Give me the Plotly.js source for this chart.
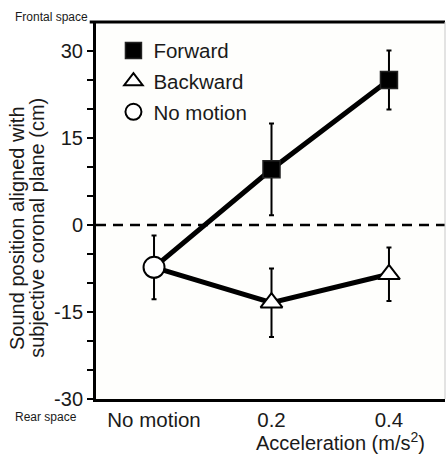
<!DOCTYPE html>
<html>
<head>
<meta charset="utf-8">
<script src="https://cdn.plot.ly/plotly-3.0.1.min.js"></script>
<style>html,body{margin:0;padding:0;background:#fff;}#chart{width:446px;height:454px;}</style>
</head>
<body>
<div id="chart"></div>
<script>
// ---- data ----
var categories = ['No motion', '0.2', '0.4'];
var motionCats = ['0.2', '0.4'];
var noMotionMean = [-7.3];
var noMotionErr = [5.5];
var forwardMean = [9.6, 25.0];
var forwardErr = [7.9, 5.1];
var backwardMean = [-13.4, -8.5];
var backwardErr = [5.9, 4.6];
var yTickVals = [-30, -25, -20, -15, -10, -5, 0, 5, 10, 15, 20, 25, 30];
var yTickText = ['-30', '', '', '-15', '', '', '0', '', '', '15', '', '', '30'];
var legendNames = ['Forward', 'Backward', 'No motion'];
var yTitleLines = ['Sound position aligned with', 'subjective coronal plane (cm)'];

var FONT = 'Liberation Sans, Arial, sans-serif';
var TXT = '#1a1a1a';

var traces = [
  { // forward connecting line
    x: categories, y: noMotionMean.concat(forwardMean),
    type: 'scatter', mode: 'lines', line: {color: '#000', width: 5},
    showlegend: false, hoverinfo: 'skip'
  },
  { // backward connecting line
    x: categories, y: noMotionMean.concat(backwardMean),
    type: 'scatter', mode: 'lines', line: {color: '#000', width: 5},
    showlegend: false, hoverinfo: 'skip'
  },
  {
    name: legendNames[0], legendgroup: 'f',
    x: motionCats, y: forwardMean, type: 'scatter', mode: 'markers',
    marker: {symbol: 'square', size: 17, color: '#000', line: {color: '#222', width: 1.5}},
    error_y: {type: 'data', array: forwardErr, visible: true, color: '#000', thickness: 2, width: 2.5}
  },
  {
    name: legendNames[1], legendgroup: 'b',
    x: motionCats, y: backwardMean, type: 'scatter', mode: 'markers',
    marker: {symbol: 'triangle-up', size: 19, color: '#fff', line: {color: '#000', width: 2}},
    error_y: {type: 'data', array: backwardErr, visible: true, color: '#000', thickness: 2, width: 2.5}
  },
  {
    name: legendNames[2], legendgroup: 'n',
    x: [categories[0]], y: noMotionMean, type: 'scatter', mode: 'markers',
    marker: {symbol: 'circle', size: 21, color: '#fff', line: {color: '#000', width: 2}},
    error_y: {type: 'data', array: noMotionErr, visible: true, color: '#000', thickness: 2, width: 2.5}
  }
];

var layout = {
  width: 446, height: 454,
  margin: {l: 96, r: 1, t: 22, b: 55},
  paper_bgcolor: '#ffffff',
  plot_bgcolor: '#fefefc',
  font: {family: FONT, color: TXT},
  showlegend: true,
  legend: {
    x: 0.05, y: 0.977, xanchor: 'left', yanchor: 'top',
    bgcolor: 'rgba(0,0,0,0)', font: {size: 20.5, family: FONT, color: TXT},
    tracegroupgap: 1, itemsizing: 'trace'
  },
  xaxis: {
    type: 'category', categoryorder: 'array', categoryarray: categories,
    range: [-0.494, 2.477], showgrid: false, zeroline: false,
    showline: true, linecolor: '#000', linewidth: 3,
    ticks: '', tickfont: {size: 20.5, family: FONT, color: TXT},
    fixedrange: true
  },
  yaxis: {
    range: [-30, 35], showgrid: false, zeroline: false,
    showline: true, linecolor: '#000', linewidth: 3,
    tickmode: 'array', tickvals: yTickVals, ticktext: yTickText,
    ticks: 'outside', ticklen: 6, tickwidth: 1.5, tickcolor: '#000',
    tickfont: {size: 20, family: FONT, color: TXT},
    fixedrange: true
  },
  shapes: [
    {type: 'line', xref: 'paper', yref: 'y', x0: 0, x1: 1, y0: 0, y1: 0,
     line: {color: '#000', width: 2.5, dash: '10px,7px'}, layer: 'below'},
    {type: 'line', xref: 'paper', yref: 'paper', x0: -0.018, x1: 1, y0: 1, y1: 1,
     line: {color: '#000', width: 3}},
    {type: 'line', xref: 'paper', yref: 'paper', x0: 1, x1: 1, y0: 0, y1: 1,
     line: {color: '#c8c8c8', width: 1}}
  ],
  annotations: [
    {text: yTitleLines[0], textangle: -90,
     xref: 'paper', yref: 'paper', x: -0.226, y: 0.454, xanchor: 'center', yanchor: 'middle',
     showarrow: false, font: {size: 20, family: FONT, color: TXT}},
    {text: yTitleLines[1], textangle: -90,
     xref: 'paper', yref: 'paper', x: -0.169, y: 0.454, xanchor: 'center', yanchor: 'middle',
     showarrow: false, font: {size: 20, family: FONT, color: TXT}},
    {text: 'Acceleration (m/s<sup>2</sup>)', xref: 'paper', yref: 'paper',
     x: 0.7, y: -0.114, xanchor: 'center', yanchor: 'middle',
     showarrow: false, font: {size: 20, family: FONT, color: TXT}},
    {text: 'Frontal space', xref: 'paper', yref: 'paper', x: -0.238, y: 1.012,
     xanchor: 'left', yanchor: 'middle', showarrow: false,
     font: {size: 12, family: FONT, color: TXT}},
    {text: 'Rear space', xref: 'paper', yref: 'paper', x: -0.238, y: -0.048,
     xanchor: 'left', yanchor: 'middle', showarrow: false,
     font: {size: 12, family: FONT, color: TXT}}
  ]
};

Plotly.newPlot('chart', traces, layout, {displayModeBar: false, staticPlot: true});
</script>
</body>
</html>
